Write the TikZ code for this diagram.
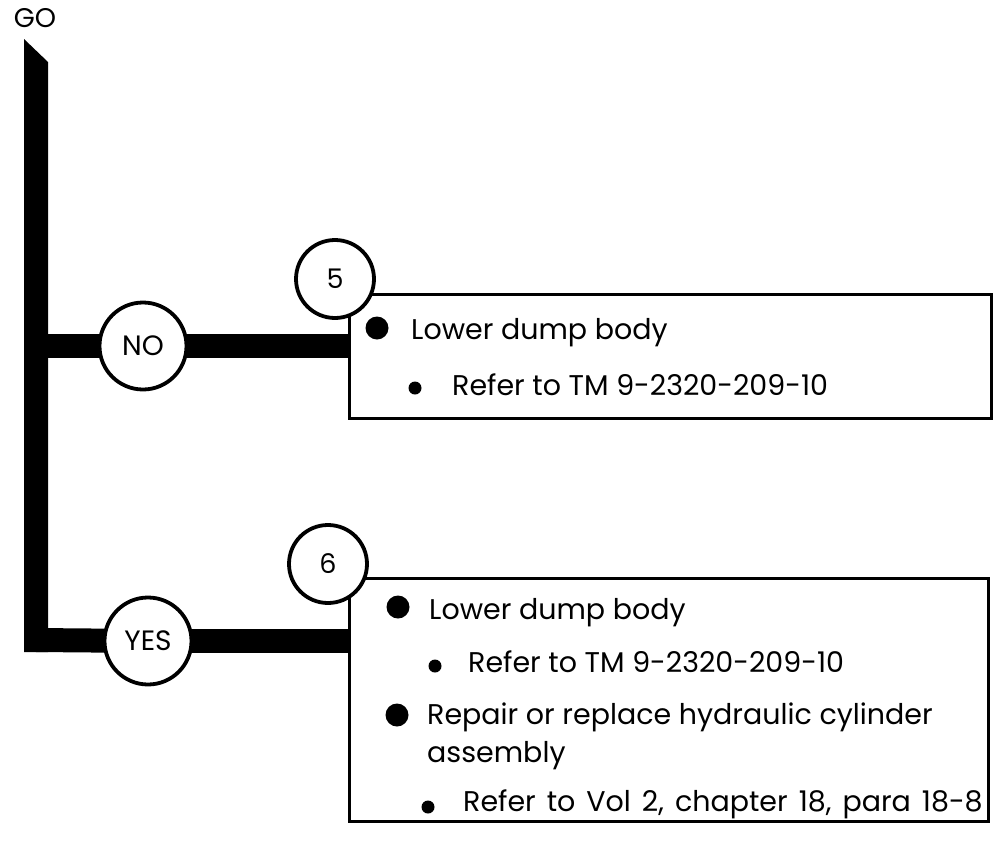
\documentclass[tikz,border=0pt]{standalone}
\usepackage{fontspec}
\setmainfont{Poppins}
\usetikzlibrary{backgrounds}
\begin{document}
\begin{tikzpicture}[x=1pt,y=-1pt,
  bar/.style={line width=24pt},
  decision/.style={circle, draw, line width=3.8pt, fill=white, minimum size=87pt, inner sep=0pt, font=\fontsize{28}{28}\selectfont},
  stepnum/.style={circle, draw, line width=3.8pt, fill=white, minimum size=78pt, inner sep=0pt, font=\fontsize{27}{27}\selectfont},
  actionbox/.style={draw, line width=3pt, inner sep=0pt, anchor=north west},
  txt/.style={anchor=base west, inner sep=0pt, font=\fontsize{28.5}{28.5}\selectfont},
  bigdot/.style={circle, fill=black, minimum size=23pt, inner sep=0pt},
  smalldot/.style={circle, fill=black, minimum size=13pt, inner sep=0pt}]
\useasboundingbox (0,0) rectangle (997,844);

\node[font=\fontsize{27}{27}\selectfont, inner sep=0pt] (go) at (35,18) {GO};

% action boxes
\node[actionbox, minimum width=642pt, minimum height=124pt] (b1) at (348,293) {};
\node[actionbox, minimum width=639pt, minimum height=243pt] (b2) at (348,577) {};

% decision circles
\node[decision] (no) at (143,346) {NO};
\node[decision] (yes) at (148,641) {YES};

% step numbers
\node[stepnum] (s5) at (335,279) {5};
\node[stepnum] (s6) at (328,564) {6};

% junctions on the main bar
\coordinate (j1) at (36,346);
\coordinate (j2) at (36,640);

\begin{scope}[on background layer]
  \fill (24,39) -- (48,62) -- (48,652) -- (24,652) -- cycle;
  \draw[bar] (j1) -- (no.center);
  \draw[bar] (no.center) -- (no.center -| b1.west);
  \draw[bar] (j2) -- (yes.center);
  \draw[bar] (yes.center) -- (yes.center -| b2.west);
\end{scope}

% box 1 text
\node[bigdot] (d11) at (377,328) {};
\node[txt] (t11) at (411,339) {Lower dump body};
\node[smalldot] (d12) at (415,388) {};
\node[txt] (t12) at (452,395) {Refer to TM 9-2320-209-10};

% box 2 text
\node[bigdot] (d21) at (398,607) {};
\node[txt] (t21) at (429,619) {Lower dump body};
\node[smalldot] (d22) at (435,666) {};
\node[txt] (t22) at (468,672) {Refer to TM 9-2320-209-10};
\node[bigdot] (d23) at (397,715) {};
\node[txt] (t23) at (427,724) {Repair or replace hydraulic cylinder};
\node[txt] (t24) at (427,762) {assembly};
\node[smalldot] (d24) at (428,807) {};
\node[txt] (t25) at (463,811) {\spaceskip=11pt plus 2pt\relax Refer to Vol 2, chapter 18, para 18-8};
\end{tikzpicture}
\end{document}
